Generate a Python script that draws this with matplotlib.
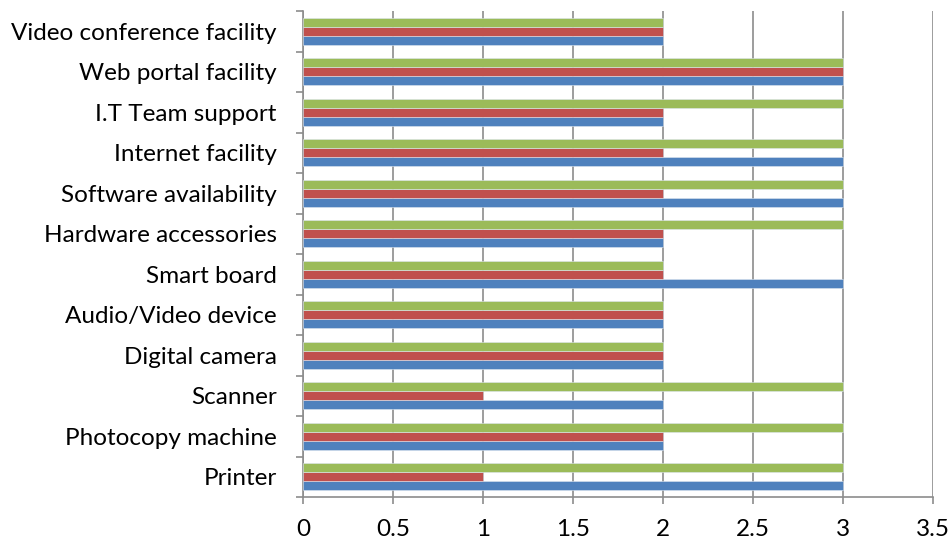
import numpy as np
import matplotlib.pyplot as plt

categories = ['Printer', 'Photocopy machine', 'Scanner', 'Digital camera',
              'Audio/Video device', 'Smart board', 'Hardware accessories',
              'Software availability', 'Internet facility', 'I.T Team support',
              'Web portal facility', 'Video conference facility']
series1 = [3, 2, 2, 2, 2, 3, 2, 3, 3, 2, 3, 2]
series2 = [1, 2, 1, 2, 2, 2, 2, 2, 2, 2, 3, 2]
series3 = [3, 3, 3, 2, 2, 2, 3, 3, 3, 3, 3, 2]
colors = ['#4F81BD', '#C0504D', '#9BBB59']

plt.rcParams['font.family'] = ['Lato', 'DejaVu Sans']

fig = plt.figure(figsize=(9.52, 5.55), dpi=100)
ax = fig.add_axes([303 / 952, 1 - 497 / 555, 630 / 952, 486 / 555])

y = np.arange(len(categories))
h = 0.222
for i, vals in enumerate([series1, series2, series3]):
    ax.barh(y + (i - 1) * h, vals, height=h, color=colors[i],
            edgecolor='#dde6f0', linewidth=0.4, zorder=3)

ax.set_xlim(0, 3.5)
ax.set_ylim(-0.5, len(categories) - 0.5)
ax.set_xticks(np.arange(0, 3.51, 0.5))
ax.set_xticklabels(['0', '0.5', '1', '1.5', '2', '2.5', '3', '3.5'])
ax.grid(axis='x', color='#8c8c8c', linewidth=1.2, zorder=0)

ax.set_yticks(y)
ax.set_yticklabels(categories)
ax.set_yticks(np.arange(-0.5, len(categories), 1), minor=True)
ax.tick_params(axis='y', which='major', length=0, pad=19, labelsize=17.5)
ax.tick_params(axis='y', which='minor', length=5, color='#8c8c8c', width=1.2)
ax.tick_params(axis='x', length=5, color='#8c8c8c', width=1.2, pad=11, labelsize=17.5)

for s in ['top', 'right']:
    ax.spines[s].set_visible(False)
for s in ['left', 'bottom']:
    ax.spines[s].set_color('#8c8c8c')
    ax.spines[s].set_linewidth(1.2)

fig.savefig('out.png', dpi=100)
